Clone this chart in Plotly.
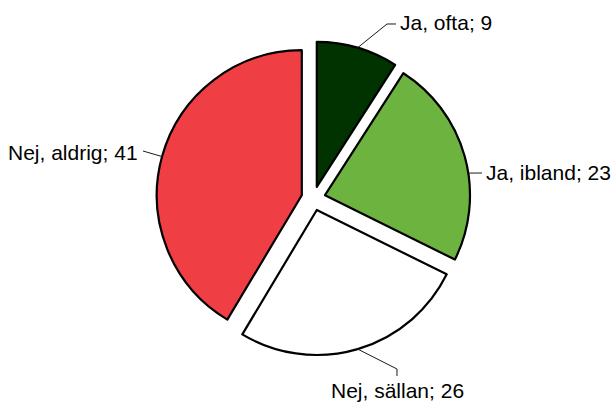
import math
import plotly.graph_objects as go

labels = ["Ja, ofta", "Ja, ibland", "Nej, sällan", "Nej, aldrig"]
values = [9, 23, 26, 41]
colors = ["#003300", "#6db33f", "#ffffff", "#f03e45"]

W, H = 612, 403
PULL = 0.083
# pie geometry (pixels)
CX, CY, R = 313.4, 198.4, 145.0
pull_px = R * PULL

# anchor position within slice (fraction of slice span) – style only
anchor_frac = [0.5, 0.58, 0.5, 0.5]
# label layout: (elbow points, text x, text y, xanchor)
label_layout = [
    ([(387, 24), (396, 24)], 398, 23, "left"),
    ([(482, 173)], 484, 173, "left"),
    ([(397, 369), (397, 376)], 397, 390, "center"),
    ([(143, 151)], 140, 152, "right"),
]

def px2paper(x, y):
    return x / W, 1 - y / H

total = sum(values)
fig = go.Figure()
fig.add_trace(go.Pie(
    labels=labels, values=values, sort=False, direction="clockwise", rotation=0,
    marker=dict(colors=colors, line=dict(color="#000000", width=2.2)),
    pull=[PULL] * len(values), textinfo="none", hoverinfo="label+value",
    domain=dict(x=[(CX - 160) / W, (CX + 160) / W],
                y=[1 - (CY + R * (1 + PULL)) / H, 1 - (CY - R * (1 + PULL)) / H]),
    showlegend=False,
))

shapes, annotations = [], []
cum = 0
for i, v in enumerate(values):
    a0 = cum / total * 2 * math.pi
    a1 = (cum + v) / total * 2 * math.pi
    mid = (a0 + a1) / 2
    cum += v
    vx = CX + pull_px * math.sin(mid)
    vy = CY - pull_px * math.cos(mid)
    aa = a0 + anchor_frac[i] * (a1 - a0)
    ax_ = vx + R * math.sin(aa)
    ay_ = vy - R * math.cos(aa)
    pts = [(ax_, ay_)] + label_layout[i][0]
    path = "M " + " L ".join(f"{px2paper(x, y)[0]:.5f},{px2paper(x, y)[1]:.5f}" for x, y in pts)
    shapes.append(dict(type="path", path=path, xref="paper", yref="paper",
                       line=dict(color="#1a1a1a", width=1)))
    tx, ty = px2paper(label_layout[i][1], label_layout[i][2])
    annotations.append(dict(x=tx, y=ty, xref="paper", yref="paper", showarrow=False,
                            text=f"{labels[i]}; {v}", xanchor=label_layout[i][3],
                            yanchor="middle",
                            font=dict(family="Liberation Sans, Arial", size=21, color="#000000")))

fig.update_layout(
    width=W, height=H, margin=dict(l=0, r=0, t=0, b=0),
    paper_bgcolor="#ffffff", plot_bgcolor="#ffffff",
    shapes=shapes, annotations=annotations,
)
fig.write_html("out.html", config={"displayModeBar": False},
               post_script="document.body.style.margin='0';document.body.style.overflow='hidden';")
